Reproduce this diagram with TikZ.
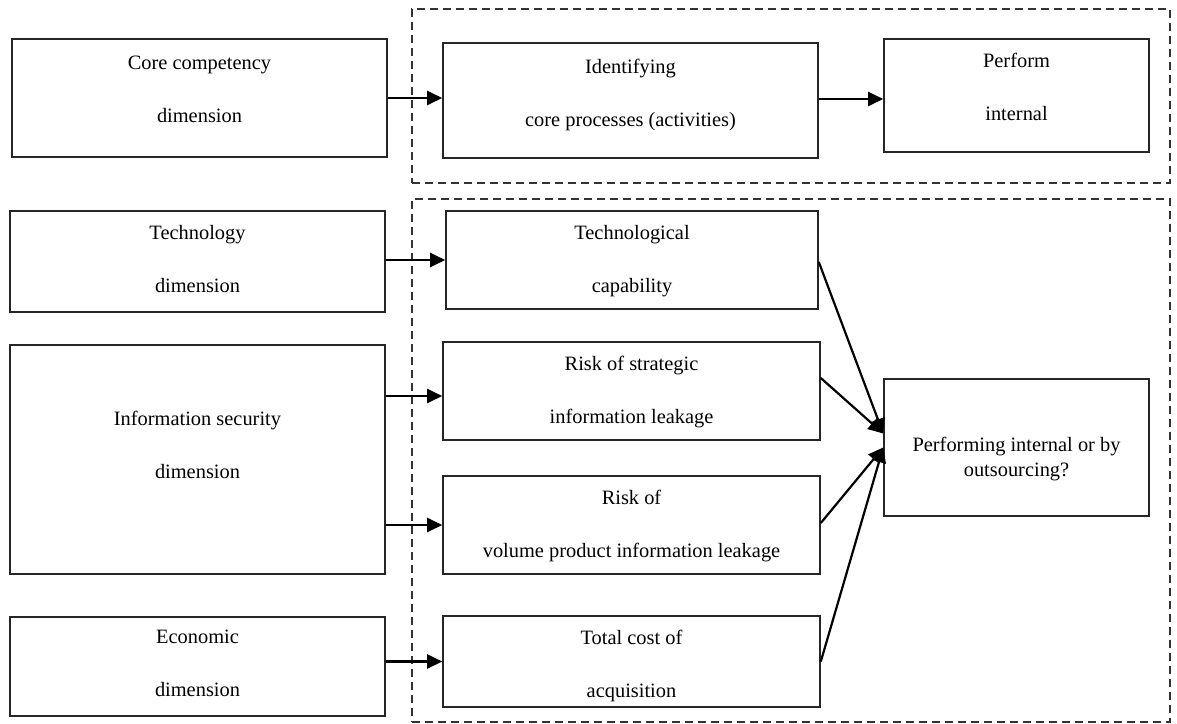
\documentclass[tikz,border=0pt]{standalone}
\usepackage{fontspec}
\setmainfont{Liberation Serif}
\usetikzlibrary{arrows.meta}
\begin{document}
\begin{tikzpicture}[x=1pt,y=-1pt,
  box/.style={draw=black!85, line width=1.6pt, rectangle, inner sep=0pt, align=center,
    font=\fontsize{20.4}{53}\selectfont, text height=67pt, text depth=8pt},
  region/.style={draw=black!80, line width=1.3pt, dash pattern=on 8pt off 5pt, rectangle, inner sep=0pt},
  arr/.style={line width=2.2pt, -{Triangle[length=15pt,width=14pt]}},
]
\useasboundingbox (0,0) rectangle (1177,723);

% dashed regions
\node[region, minimum width=758pt, minimum height=174pt] (topreg) at (791,96) {};
\node[region, minimum width=758pt, minimum height=523pt] (botreg) at (791,460.5) {};

% left column
\node[box, minimum width=375pt, minimum height=118pt, text height=56pt] (core) at (199.5,98) {Core competency\\dimension};
\node[box, minimum width=375pt, minimum height=101pt, text height=70pt] (tech) at (197.5,261.5) {Technology\\dimension};
\node[box, minimum width=375pt, minimum height=229pt, text height=45pt] (info) at (197.5,459.5) {Information security\\dimension};
\node[box, minimum width=375pt, minimum height=99pt, text height=67pt] (econ) at (197.5,666.5) {Economic\\dimension};

% middle column
\node[box, minimum width=375pt, minimum height=115pt, text height=59pt] (ident) at (630.5,100.5) {Identifying\\core processes (activities)};
\node[box, minimum width=372pt, minimum height=98pt, text height=72pt] (techcap) at (632,260) {Technological\\capability};
\node[box, minimum width=377pt, minimum height=98pt, text height=72pt] (strat) at (631.5,391) {Risk of strategic\\information leakage};
\node[box, minimum width=377pt, minimum height=98pt, text height=72pt] (vol) at (631.5,525) {Risk of\\volume product information leakage};
\node[box, minimum width=377pt, minimum height=91pt, text height=79pt] (cost) at (631.5,661.5) {Total cost of\\acquisition};

% right column
\node[box, minimum width=265pt, minimum height=113pt, text height=58pt] (perf) at (1016.5,95.5) {Perform\\internal};
\node[box, minimum width=265pt, minimum height=137pt, font=\fontsize{20.4}{25}\selectfont,
  text height=58pt, text depth=0pt] (q) at (1016.5,447.5) {Performing internal or by\\outsourcing?};

% connectors
\draw[arr] (core.east) -- (core.east -| ident.west);
\draw[arr] ([yshift=1.5pt]ident.east) -- ([yshift=1.5pt]ident.east -| perf.west);
\draw[arr] (techcap.west -| tech.east) -- (techcap.west);
\draw[arr] ([yshift=-5pt]strat.west -| info.east) -- ([yshift=-5pt]strat.west);
\draw[arr] (vol.west -| info.east) -- (vol.west);
\draw[arr] (cost.west -| econ.east) -- (cost.west);

\draw[arr] ([yshift=-2pt]techcap.east) -- ([yshift=14pt]q.west);
\draw[arr] ([yshift=13pt]strat.east) -- ([yshift=14pt]q.west);
\draw[arr] ([yshift=2pt]vol.east) -- (q.west);
\draw[arr] (cost.east) -- (q.west);
\end{tikzpicture}
\end{document}
